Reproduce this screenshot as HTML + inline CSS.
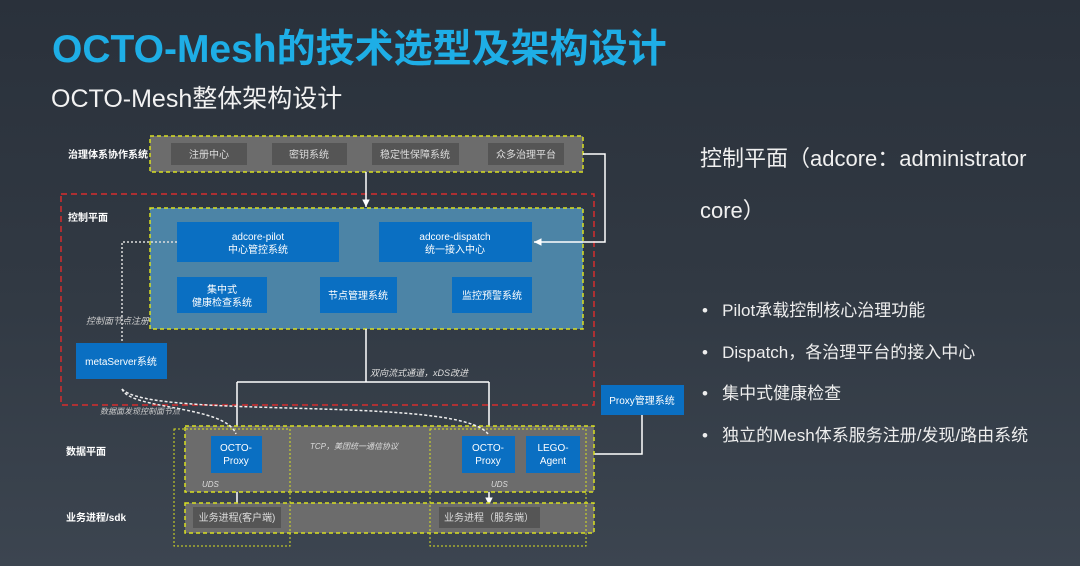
<!DOCTYPE html>
<html><head><meta charset="utf-8"><style>
html,body{margin:0;padding:0}
body{width:1080px;height:566px;overflow:hidden;background:linear-gradient(180deg,#2a313b 0%,#313943 50%,#3c4550 100%);font-family:"Liberation Sans","Noto Sans CJK SC",sans-serif;position:relative}
.t{position:absolute;white-space:nowrap}
</style></head><body>
<div class="t" style="left:52px;top:18px;font-size:39px;font-weight:bold;color:#1eaee6;">OCTO-Mesh的技术选型及架构设计</div>
<div class="t" style="left:51px;top:79px;font-size:25px;color:#f2f2f2;">OCTO-Mesh整体架构设计</div>
<div class="t" style="left:700px;top:141px;font-size:22px;color:#f0f0f0;">控制平面（adcore：administrator</div>
<div class="t" style="left:700px;top:193px;font-size:22px;color:#f0f0f0;">core）</div>
<div class="t" style="left:702px;top:296px;font-size:17px;color:#eee;">•&nbsp;&nbsp; Pilot承载控制核心治理功能</div>
<div class="t" style="left:702px;top:338px;font-size:17px;color:#eee;">•&nbsp;&nbsp; Dispatch，各治理平台的接入中心</div>
<div class="t" style="left:702px;top:379px;font-size:17px;color:#eee;">•&nbsp;&nbsp; 集中式健康检查</div>
<div class="t" style="left:702px;top:421px;font-size:17px;color:#eee;">•&nbsp;&nbsp; 独立的Mesh体系服务注册/发现/路由系统</div>

<svg width="1080" height="566" style="position:absolute;left:0;top:0" font-family="Liberation Sans, Noto Sans CJK SC, sans-serif">
<defs><marker id="a" markerWidth="6" markerHeight="6" refX="5" refY="3" orient="auto"><path d="M0,0.5 L5,3 L0,5.5z" fill="#fff"/></marker></defs>
<rect x="150" y="136" width="433" height="36" fill="#6c6c6c" stroke="#d9e021" stroke-width="1.5" stroke-dasharray="4,3"/>
<g fill="#555" ><rect x="171" y="143" width="76" height="22"/><rect x="272" y="143" width="75" height="22"/><rect x="372" y="143" width="87" height="22"/><rect x="488" y="143" width="76" height="22"/></g>
<g fill="#ddd" font-size="10" text-anchor="middle"><text x="209" y="158">注册中心</text><text x="309" y="158">密钥系统</text><text x="415" y="158">稳定性保障系统</text><text x="526" y="158">众多治理平台</text></g>
<g fill="#fff" font-size="10" font-weight="bold"><text x="68" y="158">治理体系协作系统</text><text x="68" y="221">控制平面</text><text x="66" y="455">数据平面</text><text x="66" y="521">业务进程/sdk</text></g>
<rect x="61" y="194" width="533" height="211" fill="none" stroke="#d62d2d" stroke-width="1.5" stroke-dasharray="6,4"/>
<rect x="150" y="208" width="433" height="121" fill="#4c84a6" stroke="#d9e021" stroke-width="1.5" stroke-dasharray="4,3"/>
<g fill="#0a6fc2"><rect x="177" y="222" width="162" height="40"/><rect x="379" y="222" width="153" height="40"/><rect x="177" y="277" width="90" height="36"/><rect x="320" y="277" width="77" height="36"/><rect x="452" y="277" width="80" height="36"/></g>
<g fill="#fff" font-size="10" text-anchor="middle"><text x="258" y="240">adcore-pilot</text><text x="258" y="253">中心管控系统</text><text x="455" y="240">adcore-dispatch</text><text x="455" y="253">统一接入中心</text><text x="222" y="293">集中式</text><text x="222" y="306">健康检查系统</text><text x="358" y="299">节点管理系统</text><text x="492" y="299">监控预警系统</text></g>
<g stroke="#fff" stroke-width="1.5" fill="none">
<path d="M366 172 V207" marker-end="url(#a)"/>
<path d="M583 154 H605 V242 H534" marker-end="url(#a)"/>
<path d="M366 329 V382 M237 382 H489 M237 382 V435 M489 382 V435"/>
<path d="M642 415 V454 H582" marker-end="url(#a)"/>
<path d="M526 454 H517" marker-end="url(#a)"/>
<path d="M262 454 H460" marker-end="url(#a)"/>
<path d="M237 506 V475" marker-end="url(#a)"/>
<path d="M489 473 V505" marker-end="url(#a)"/>
</g>
<path d="M177 242 H122 V342" stroke="#ddd" stroke-width="1.5" fill="none" stroke-dasharray="2,2"/>
<text x="86" y="324" fill="#ccc" font-size="9" font-style="italic">控制面节点注册</text>
<rect x="76" y="343" width="91" height="36" fill="#0a6fc2"/>
<text x="121" y="365" fill="#fff" font-size="10" text-anchor="middle">metaServer系统</text>
<rect x="601" y="385" width="83" height="30" fill="#0a6fc2"/>
<text x="642" y="404" fill="#fff" font-size="10" text-anchor="middle">Proxy管理系统</text>
<text x="370" y="376" fill="#ddd" font-size="9" font-style="italic">双向流式通道，xDS改进</text>
<rect x="185" y="426" width="409" height="66" fill="#6c6c6c" stroke="#d9e021" stroke-width="1.5" stroke-dasharray="4,3"/>
<rect x="185" y="503" width="409" height="30" fill="#6c6c6c" stroke="#d9e021" stroke-width="1.5" stroke-dasharray="4,3"/>
<rect x="174" y="429" width="116" height="117" fill="none" stroke="#d9e021" stroke-width="1" stroke-dasharray="2,2"/>
<rect x="430" y="429" width="156" height="117" fill="none" stroke="#d9e021" stroke-width="1" stroke-dasharray="2,2"/>
<g fill="#0a6fc2"><rect x="211" y="436" width="51" height="37"/><rect x="462" y="436" width="53" height="37"/><rect x="526" y="436" width="54" height="37"/></g>
<g fill="#fff" font-size="10" text-anchor="middle"><text x="236" y="451">OCTO-</text><text x="236" y="464">Proxy</text><text x="488" y="451">OCTO-</text><text x="488" y="464">Proxy</text><text x="553" y="451">LEGO-</text><text x="553" y="464">Agent</text></g>
<g fill="#555"><rect x="193" y="507" width="88" height="21"/><rect x="439" y="507" width="101" height="21"/></g>
<g fill="#ddd" font-size="10" text-anchor="middle"><text x="237" y="521">业务进程(客户端)</text><text x="489" y="521">业务进程（服务端）</text></g>
<g fill="#ddd" font-size="8" font-style="italic"><text x="202" y="487">UDS</text><text x="491" y="487">UDS</text><text x="310" y="449">TCP，美团统一通信协议</text><text x="100" y="414" fill="#ccc">数据面发现控制面节点</text></g>
<g stroke="#eee" stroke-width="1.5" fill="none" stroke-dasharray="3,2">
<path d="M122 389 C130 410 225 405 236 434"/>
<path d="M122 389 C150 420 460 395 488 434"/>
</g>
</svg>
</body></html>
